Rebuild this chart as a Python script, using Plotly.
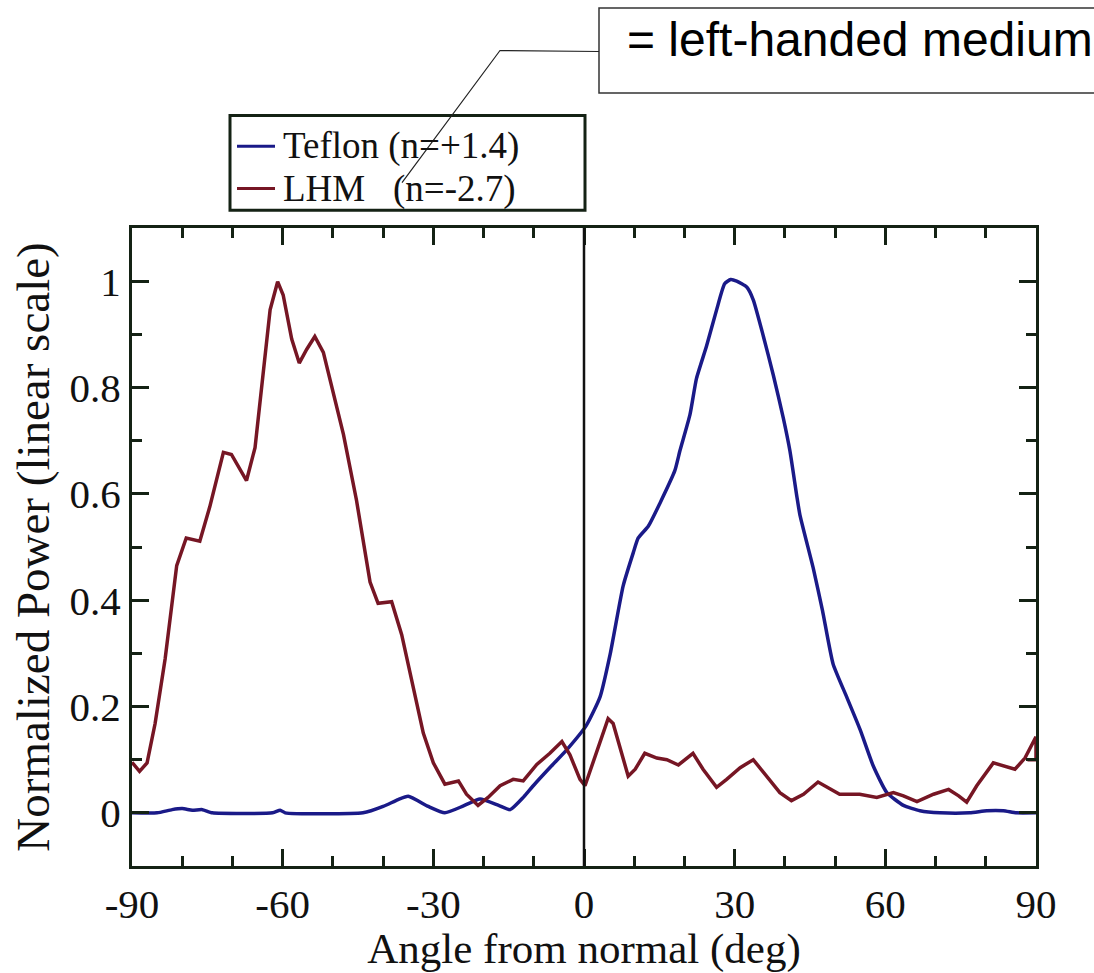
import plotly.graph_objects as go

# ---- data ----
lhm_angle = [-90, -88.5, -87, -85.4, -83.4, -82.1, -81.1, -79.2, -76.5, -74.5, -71.8, -70.2,
             -67.2, -65.5, -63.8, -62.5, -61.0, -59.9, -58.2, -56.7, -55.2, -53.6, -51.9,
             -49.9, -47.9, -45.3, -42.6, -41.0, -38.3, -36.3, -34.3, -32.0, -30.0, -27.7,
             -25.0, -23.4, -21.1, -19.1, -16.7, -14.1, -12.1, -9.4, -6.8, -4.4, -2.8, -0.8,
             0.2, 4.8, 5.8, 8.8, 10.2, 12.1, 14.5, 16.5, 18.8, 21.7, 23.7, 26.4, 28.4, 31.1,
             33.7, 36.4, 39.0, 41.3, 43.7, 46.6, 48.6, 50.9, 54.9, 58.3, 61.6, 63.6, 66.3,
             69.6, 72.6, 74.6, 76.2, 78.2, 81.5, 83.5, 85.8, 87.8, 90.0, 90.0, 88.3]
lhm_power = [0.095, 0.078, 0.094, 0.168, 0.29, 0.39, 0.465, 0.517, 0.511, 0.576, 0.678, 0.674,
             0.625, 0.687, 0.829, 0.946, 0.999, 0.974, 0.891, 0.846, 0.872, 0.896, 0.866,
             0.786, 0.712, 0.588, 0.434, 0.394, 0.397, 0.335, 0.248, 0.150, 0.094, 0.054,
             0.060, 0.035, 0.014, 0.029, 0.051, 0.063, 0.060, 0.091, 0.112, 0.134, 0.109, 0.063,
             0.051, 0.177, 0.168, 0.069, 0.082, 0.112, 0.103, 0.100, 0.090, 0.112, 0.082, 0.048,
             0.063, 0.085, 0.100, 0.069, 0.038, 0.023, 0.035, 0.058, 0.048, 0.035, 0.035, 0.029,
             0.038, 0.032, 0.021, 0.035, 0.044, 0.032, 0.020, 0.051, 0.094, 0.088, 0.082, 0.103,
             0.143, 0.100, 0.100]

teflon_angle = [-90, -85, -82, -80, -78, -76, -74, -62, -60.5, -59.5, -44, -40, -37, -35, -31,
                -27.7, -24, -20.7, -17, -14.7, -12, -10.1, -6.5, -3.4, 0.5, 3.2, 5.2, 7.8, 9.8,
                10.8, 12.8, 15.1, 18.1, 19.1, 21.1, 22.4, 24.4, 26.4, 28.0, 29.2, 30.4, 32.4,
                33.7, 35.7, 37.7, 39.7, 41.0, 42.4, 43.0, 45.7, 47.5, 49.6, 52.3, 55.0, 57.6,
                60.3, 63.6, 66.9, 70.9, 76.8, 80.2, 83.5, 86.1, 90]
teflon_power = [0.0, 0.0, 0.006, 0.008, 0.005, 0.006, 0.0, 0.0, 0.005, 0.0, 0.0, 0.012, 0.025,
                0.031, 0.012, 0.0, 0.013, 0.026, 0.014, 0.006, 0.03, 0.051, 0.088, 0.119, 0.165,
                0.218, 0.298, 0.427, 0.489, 0.517, 0.539, 0.582, 0.644, 0.681, 0.749, 0.817,
                0.878, 0.946, 0.995, 1.003, 1.0, 0.989, 0.965, 0.897, 0.823, 0.742, 0.681, 0.594,
                0.560, 0.458, 0.38, 0.28, 0.218, 0.156, 0.088, 0.038, 0.014, 0.004, 0.0, 0.0,
                0.004, 0.004, 0.0, 0.0]

series_names = ["Teflon (n=+1.4)", "LHM\u00a0\u00a0\u00a0(n=-2.7)"]

x_tickvals = [-90, -60, -30, 0, 30, 60, 90]
x_ticktext = ["-90", "-60", "-30", "0", "30", "60", "90"]
y_tickvals = [0, 0.2, 0.4, 0.6, 0.8, 1]
y_ticktext = ["0", "0.2", "0.4", "0.6", "0.8", "1"]

# ---- figure ----
W, H = 1094, 973
L, R, T, B = 132, 58, 228, 98
pw, ph = W - L - R, H - T - B


def px(xp):
    return (xp - L) / pw


def py(yp):
    return (H - B - yp) / ph


SERIF = "Liberation Serif, Times New Roman, serif"
FRAME = "#142214"
BLUE = "#1a1a88"
RED = "#761624"
colors = [BLUE, RED]

fig = go.Figure()
fig.add_trace(go.Scatter(x=teflon_angle, y=teflon_power, mode="lines",
                         name=series_names[0], showlegend=False,
                         line=dict(color=BLUE, width=3.5, shape="spline", smoothing=0.5)))
fig.add_trace(go.Scatter(x=lhm_angle, y=lhm_power, mode="lines",
                         name=series_names[1], showlegend=False,
                         line=dict(color=RED, width=3.5)))

axis_common = dict(showline=True, linewidth=3, linecolor=FRAME, mirror="allticks",
                   ticks="inside", ticklen=17, tickwidth=3, tickcolor=FRAME,
                   showgrid=False, zeroline=False,
                   tickfont=dict(family=SERIF, size=41, color="#111"))

fig.update_xaxes(range=[-90, 90], tickmode="array", tickvals=x_tickvals, ticktext=x_ticktext,
                 minor=dict(tickmode="linear", tick0=-90, dtick=10, ticks="inside",
                            ticklen=10, tickwidth=3, tickcolor=FRAME),
                 title=dict(text="Angle from normal (deg)",
                            font=dict(family=SERIF, size=43, color="#111"), standoff=4),
                 **axis_common)
fig.update_yaxes(range=[-0.1, 1.1], tickmode="array", tickvals=y_tickvals, ticktext=y_ticktext,
                 minor=dict(tickmode="linear", tick0=0, dtick=0.1, ticks="inside",
                            ticklen=10, tickwidth=3, tickcolor=FRAME),
                 title=dict(text="Normalized Power (linear scale)",
                            font=dict(family=SERIF, size=47, color="#111"), standoff=6),
                 **axis_common)

# vertical line at normal incidence
fig.add_vline(x=0, line=dict(color="#111", width=2.5))

# legend box (drawn manually to match the compact original legend)
fig.add_shape(type="rect", xref="paper", yref="paper",
              x0=px(230), x1=px(585), y0=py(210), y1=py(114),
              line=dict(color=FRAME, width=3), fillcolor="rgba(0,0,0,0)", layer="above")
for i, (name, yrow) in enumerate(zip(series_names, [145, 188])):
    fig.add_shape(type="line", xref="paper", yref="paper",
                  x0=px(237), x1=px(275), y0=py(yrow), y1=py(yrow),
                  line=dict(color=colors[i], width=3), layer="above")
    fig.add_annotation(xref="paper", yref="paper", x=px(281), y=py(yrow),
                       xanchor="left", yanchor="middle", showarrow=False, text=name,
                       font=dict(family=SERIF, size=37, color="#111"))

# callout box and leader line
fig.add_shape(type="rect", xref="paper", yref="paper",
              x0=px(599), x1=px(1250), y0=py(91), y1=py(5),
              line=dict(color="#333", width=1.5), fillcolor="rgba(0,0,0,0)", layer="above")
fig.add_shape(type="path", xref="paper", yref="paper",
              path=f"M {px(599)} {py(49)} L {px(500)} {py(48)} L {px(402)} {py(182)}",
              line=dict(color="#222", width=1.2), layer="above")
fig.add_annotation(xref="paper", yref="paper", x=px(625), y=py(37),
                   xanchor="left", yanchor="middle", showarrow=False,
                   text="= left-handed medium",
                   font=dict(family="Liberation Sans, Arial, sans-serif", size=48, color="#000"))

fig.update_layout(
    width=W, height=H,
    margin=dict(l=L, r=R, t=T, b=B),
    paper_bgcolor="white", plot_bgcolor="white",
    showlegend=False,
)

fig.write_html("out.html")
